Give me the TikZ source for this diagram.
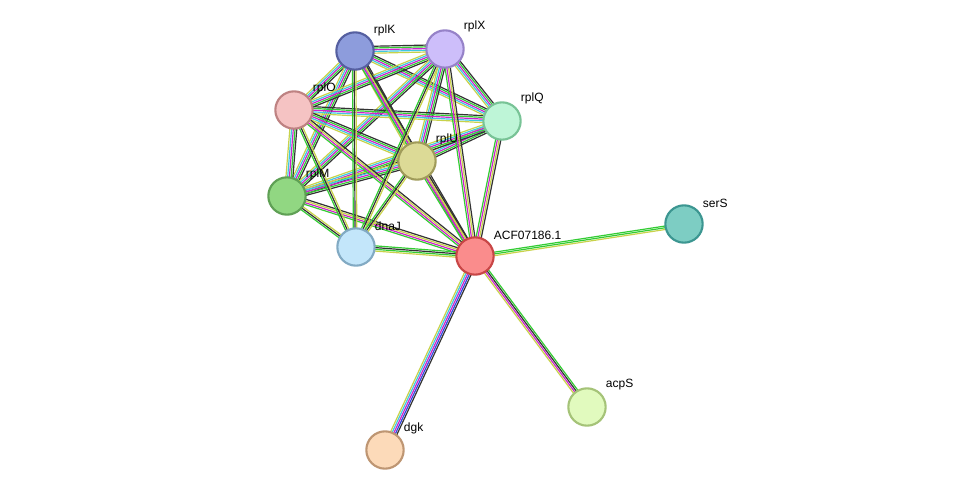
\documentclass[tikz,border=0pt]{standalone}
\usepackage{fontspec}
\setmainfont{Liberation Sans}
\usetikzlibrary{calc}
\definecolor{egreen}{HTML}{33CC33}
\definecolor{eyellow}{HTML}{C8D24A}
\definecolor{emag}{HTML}{CC22CC}
\definecolor{ecyan}{HTML}{40C8E0}
\definecolor{eblue}{HTML}{3344DD}
\definecolor{eblack}{HTML}{333333}
\tikzset{every path/.style={line width=0.9pt},
  prot/.style={circle, minimum size=28pt, inner sep=0pt, line width=1.6pt},
  tag/.style={font=\small, inner sep=1pt}}
\newcommand\lnk[3]{%
  \foreach \c [count=\i] in {#3} {
    \pgfmathsetmacro\o{(\i-2.5)*1.3}
    \draw[\c] ($(#1)!\o pt!90:(#2)$) -- ($(#2)!\o pt!-90:(#1)$);
  }}
\begin{document}
\begin{tikzpicture}[x=0.75pt,y=-0.75pt]
  \useasboundingbox (0,0) rectangle (975,496);
  \coordinate (rplK) at (355,51);
  \coordinate (rplX) at (445,49);
  \coordinate (rplO) at (294,110);
  \coordinate (rplQ) at (502,121);
  \coordinate (rplU) at (417,161);
  \coordinate (rplM) at (287,196);
  \coordinate (dnaJ) at (356,247);
  \coordinate (acf) at (475,256);
  \coordinate (serS) at (684,224);
  \coordinate (acpS) at (587,407);
  \coordinate (dgk) at (385,450);
  % ribosomal cluster
  \foreach \a/\b in {rplK/rplX,rplK/rplO,rplK/rplQ,rplK/rplU,rplK/rplM,
    rplX/rplO,rplX/rplQ,rplX/rplU,rplX/rplM,rplO/rplQ,rplO/rplU,rplO/rplM,
    rplQ/rplU,rplQ/rplM,rplU/rplM}
    \lnk{\a}{\b}{eyellow,ecyan,emag,egreen,eblack};
  \foreach \a in {rplK,rplX,rplO,rplQ,rplU,rplM}
    \lnk{\a}{acf}{egreen,emag,eyellow,eblack};
  \foreach \a in {rplK,rplX,rplO,rplU,rplM}
    \lnk{\a}{dnaJ}{egreen,eblack,eyellow};
  \lnk{dnaJ}{acf}{eyellow,egreen,eblack,egreen}
  \lnk{acf}{serS}{eyellow,egreen,egreen}
  \lnk{acf}{acpS}{eyellow,emag,eblack,egreen}
  \lnk{acf}{dgk}{eyellow,ecyan,emag,eblue,eblack}
  % proteins
  \node[prot, fill={rgb,255:red,141;green,156;blue,220}, draw={rgb,255:red,85;green,95;blue,160}] (nK) at (rplK) {};
  \node[prot, fill={rgb,255:red,205;green,190;blue,250}, draw={rgb,255:red,150;green,130;blue,200}] (nX) at (rplX) {};
  \node[prot, fill={rgb,255:red,245;green,195;blue,195}, draw={rgb,255:red,190;green,130;blue,130}] (nO) at (rplO) {};
  \node[prot, fill={rgb,255:red,190;green,245;blue,215}, draw={rgb,255:red,120;green,195;blue,150}] (nQ) at (rplQ) {};
  \node[prot, fill={rgb,255:red,220;green,218;blue,150}, draw={rgb,255:red,160;green,155;blue,90}] (nU) at (rplU) {};
  \node[prot, fill={rgb,255:red,145;green,215;blue,130}, draw={rgb,255:red,95;green,160;blue,85}] (nM) at (rplM) {};
  \node[prot, fill={rgb,255:red,195;green,230;blue,250}, draw={rgb,255:red,130;green,170;blue,195}] (nJ) at (dnaJ) {};
  \node[prot, fill={rgb,255:red,250;green,140;blue,140}, draw={rgb,255:red,200;green,70;blue,70}] (nA) at (acf) {};
  \node[prot, fill={rgb,255:red,125;green,205;blue,195}, draw={rgb,255:red,60;green,150;blue,145}] (nS) at (serS) {};
  \node[prot, fill={rgb,255:red,225;green,250;blue,190}, draw={rgb,255:red,165;green,195;blue,120}] (nP) at (acpS) {};
  \node[prot, fill={rgb,255:red,252;green,218;blue,185}, draw={rgb,255:red,190;green,150;blue,115}] (nD) at (dgk) {};
  % labels
  \node[tag, anchor=south west] at (372,38) {rplK};
  \node[tag, anchor=south west] at (462,34) {rplX};
  \node[tag, anchor=south west] at (311,96) {rplO};
  \node[tag, anchor=south west] at (519,106) {rplQ};
  \node[tag, anchor=south west] at (434,147) {rplU};
  \node[tag, anchor=south west] at (304,182) {rplM};
  \node[tag, anchor=south west] at (373,233) {dnaJ};
  \node[tag, anchor=south west] at (492,242) {ACF07186.1};
  \node[tag, anchor=south west] at (701,210) {serS};
  \node[tag, anchor=south west] at (604,392) {acpS};
  \node[tag, anchor=south west] at (402,436) {dgk};
\end{tikzpicture}
\end{document}
